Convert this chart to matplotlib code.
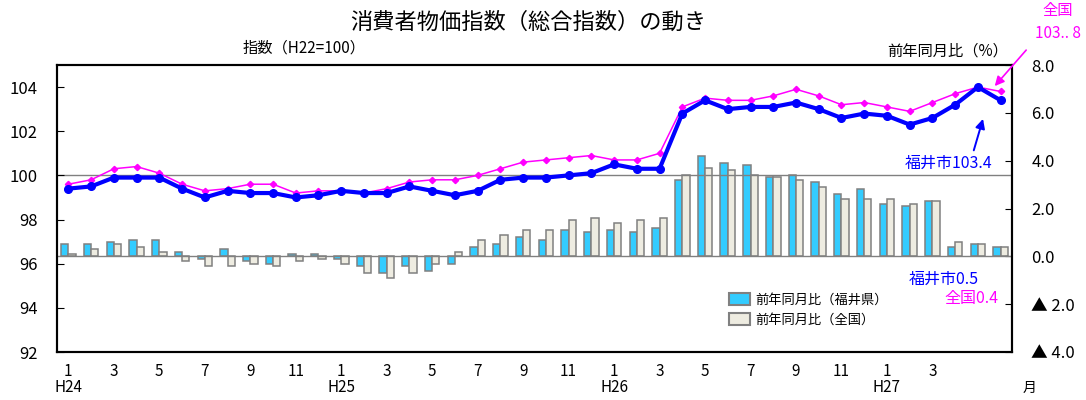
import numpy as np
import matplotlib
matplotlib.use("Agg")
import matplotlib.pyplot as plt
from matplotlib.patches import Patch
from matplotlib.transforms import blended_transform_factory

plt.rcParams['font.family'] = ['Noto Sans CJK JP', 'DejaVu Sans']

# H24.1 - H27.6
months = [1, 2, 3, 4, 5, 6, 7, 8, 9, 10, 11, 12] * 3 + [1, 2, 3, 4, 5, 6]
years = ["H24", "H25", "H26", "H27"]

fukui_index = [99.4, 99.5, 99.9, 99.9, 99.9, 99.4, 99.0, 99.3, 99.2, 99.2, 99.0, 99.1,
               99.3, 99.2, 99.2, 99.5, 99.3, 99.1, 99.3, 99.8, 99.9, 99.9, 100.0, 100.1,
               100.5, 100.3, 100.3, 102.8, 103.4, 103.0, 103.1, 103.1, 103.3, 103.0, 102.6, 102.8,
               102.7, 102.3, 102.6, 103.2, 104.0, 103.4]
national_index = [99.6, 99.8, 100.3, 100.4, 100.1, 99.6, 99.3, 99.4, 99.6, 99.6, 99.2, 99.3,
                  99.3, 99.2, 99.4, 99.7, 99.8, 99.8, 100.0, 100.3, 100.6, 100.7, 100.8, 100.9,
                  100.7, 100.7, 101.0, 103.1, 103.5, 103.4, 103.4, 103.6, 103.9, 103.6, 103.2, 103.3,
                  103.1, 102.9, 103.3, 103.7, 104.0, 103.8]
fukui_yoy = [0.5, 0.5, 0.6, 0.7, 0.7, 0.2, -0.1, 0.3, -0.2, -0.3, 0.1, 0.1,
             -0.1, -0.4, -0.7, -0.4, -0.6, -0.3, 0.4, 0.5, 0.8, 0.7, 1.1, 1.0,
             1.1, 1.0, 1.2, 3.2, 4.2, 3.9, 3.8, 3.3, 3.4, 3.1, 2.6, 2.8,
             2.2, 2.1, 2.3, 0.4, 0.5, 0.4]
national_yoy = [0.1, 0.3, 0.5, 0.4, 0.2, -0.2, -0.4, -0.4, -0.3, -0.4, -0.2, -0.1,
                -0.3, -0.7, -0.9, -0.7, -0.3, 0.2, 0.7, 0.9, 1.1, 1.1, 1.5, 1.6,
                1.4, 1.5, 1.6, 3.4, 3.7, 3.6, 3.4, 3.3, 3.2, 2.9, 2.4, 2.4,
                2.4, 2.2, 2.3, 0.6, 0.5, 0.4]

right_ticks = [-4, -2, 0, 2, 4, 6, 8]
right_labels = ["▲ 4.0", "▲ 2.0", "0.0", "2.0", "4.0", "6.0", "8.0"]

x = np.arange(len(months))
W, H = 1086, 400

fig = plt.figure(figsize=(W / 100, H / 100), dpi=100)
ax = fig.add_axes([57 / W, 1 - 352 / H, (1012 - 57) / W, (352 - 65) / H])
ax2 = ax.twinx()
ax.set_zorder(ax2.get_zorder() + 1)
ax.patch.set_visible(False)

# bars (right scale)
bw = 0.32
ax2.bar(x - bw / 2, fukui_yoy, bw, color="#33CCFF", edgecolor="#808080", linewidth=1.1)
ax2.bar(x + bw / 2, national_yoy, bw, color="#EEECE1", edgecolor="#808080", linewidth=1.1)
ax2.axhline(0, color="#808080", lw=1.0)
ax2.set_ylim(-4, 8)
ax2.set_yticks(right_ticks)
ax2.set_yticklabels(right_labels, fontsize=12)

# lines (left scale)
ax.axhline(100, color="#808080", lw=1.0, zorder=1)
ax.plot(x, national_index, color="#FF00FF", lw=1.1, marker="D", ms=3.2, zorder=3)
ax.plot(x, fukui_index, color="#0000FF", lw=3.0, marker="o", ms=5.5, zorder=4)
ax.set_ylim(92, 105)
ax.set_yticks(range(92, 105, 2))
ax.tick_params(axis="y", labelsize=12, direction="in", length=5, pad=14)
ax2.tick_params(axis="y", direction="in", length=5, pad=14)
ax.set_xlim(-0.5, len(months) - 0.5)
ax.set_xticks(x[:39:2])
ax.set_xticklabels([str(m) for m in months[:39:2]], fontsize=11)
ax.tick_params(axis="x", length=0, pad=8)

for s in list(ax.spines.values()) + list(ax2.spines.values()):
    s.set_linewidth(1.5)
    s.set_color("black")

tr = blended_transform_factory(ax.transData, fig.transFigure)
for i, y in enumerate(years):
    ax.text(i * 12, 1 - 388 / H, y, transform=tr, ha="center", va="center", fontsize=11)

def fpx(px, py):
    return (px / W, 1 - py / H)

fig.text(*fpx(528, 22), "消費者物価指数（総合指数）の動き", ha="center", va="center", fontsize=16)
fig.text(*fpx(304, 48), "指数（H22=100）", ha="center", va="center", fontsize=11)
fig.text(*fpx(1008, 51), "前年同月比（%）", ha="right", va="center", fontsize=11)
fig.text(*fpx(1030, 388), "月", ha="center", va="center", fontsize=10)

fig.text(*fpx(1058, 10), "全国", ha="center", va="center", fontsize=11, color="#FF00FF")
fig.text(*fpx(1058, 33), "103.. 8", ha="center", va="center", fontsize=11, color="#FF00FF")
ax.annotate("", xy=(40.66, 103.95), xytext=(1028, H - 48), textcoords="figure pixels",
            arrowprops=dict(arrowstyle="-|>", color="#FF00FF", lw=1.2, mutation_scale=14))

fig.text(*fpx(948, 163), "福井市103.4", ha="center", va="center", fontsize=11.5, color="#0000FF")
ax.annotate("", xy=(40.26, 102.68), xytext=(973, H - 153), textcoords="figure pixels",
            arrowprops=dict(arrowstyle="-|>", color="#0000FF", lw=1.4, mutation_scale=14))

fig.text(*fpx(944, 279), "福井市0.5", ha="center", va="center", fontsize=11.5, color="#0000FF")
fig.text(*fpx(971, 299), "全国0.4", ha="center", va="center", fontsize=11.5, color="#FF00FF")

handles = [Patch(facecolor="#33CCFF", edgecolor="#808080", linewidth=1.5),
           Patch(facecolor="#EEECE1", edgecolor="#808080", linewidth=1.5)]
fig.legend(handles, ["前年同月比（福井県）", "前年同月比（全国）"], loc="upper left",
           bbox_to_anchor=fpx(720, 284), frameon=False, fontsize=9.5,
           handlelength=1.6, handleheight=1.0, handletextpad=0.4, labelspacing=0.5,
           borderpad=0.2)

fig.savefig("out.png", dpi=100)
